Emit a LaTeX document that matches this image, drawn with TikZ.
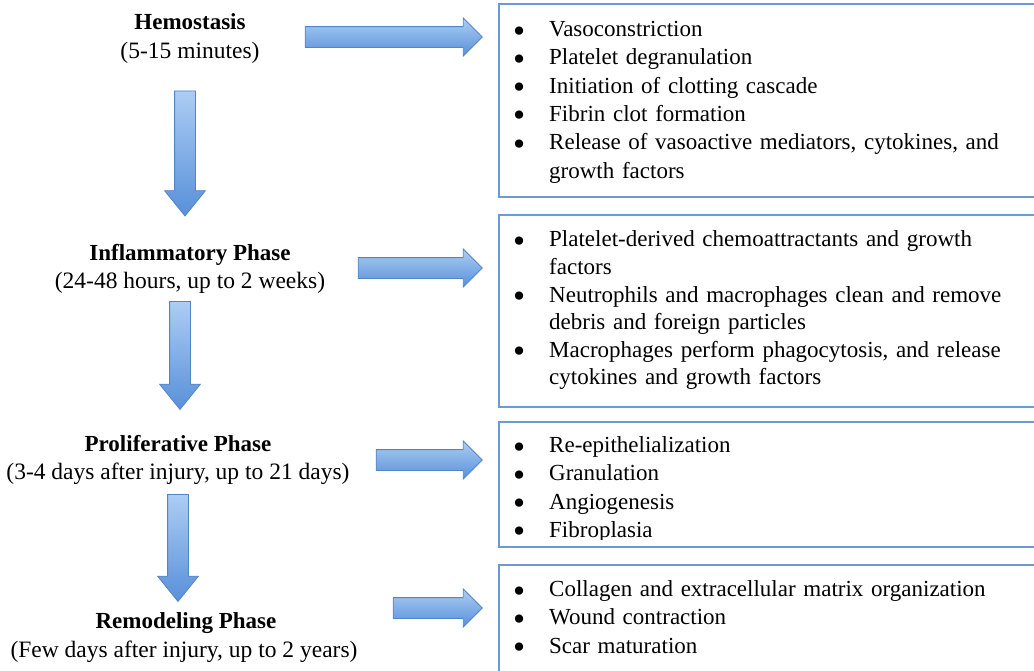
\documentclass[tikz,border=0pt]{standalone}
\usepackage{fontspec}
\setmainfont{Liberation Serif}
\usetikzlibrary{shapes.arrows}

\definecolor{arrowtop}{RGB}{172,205,244}
\definecolor{arrowbot}{RGB}{88,144,217}
\definecolor{arrowline}{RGB}{84,132,196}
\definecolor{boxblue}{RGB}{108,154,214}

\newcommand{\itm}[1]{\par\hangindent=37pt\hangafter=1\noindent
  \makebox[37pt][l]{\hspace{1pt}\smash{\raisebox{-5.5pt}{\scalebox{1.5}{\textbullet}}}}#1\par}

\begin{document}
\begin{tikzpicture}[
    x=1pt, y=1pt,
    phase/.style={
        anchor=base,
        inner sep=0pt,
        font=\fontsize{23}{28.3}\selectfont\bfseries
    },
    span/.style={
        anchor=base,
        inner sep=0pt,
        font=\fontsize{23.5}{28.3}\selectfont
    },
    rarrow/.style={
        single arrow,
        draw=arrowline,
        line width=0.8pt,
        top color=arrowtop,
        bottom color=arrowbot,
        minimum width=37pt,
        single arrow head extend=8.5pt,
        single arrow tip angle=90,
        inner sep=10pt
    },
    darrow/.style={
        single arrow,
        shape border rotate=270,
        draw=arrowline,
        line width=0.8pt,
        top color=arrowtop,
        bottom color=arrowbot,
        minimum width=40pt,
        single arrow head extend=10pt,
        single arrow tip angle=78,
        inner sep=10pt
    },
    listbox/.style={
        draw=boxblue,
        line width=1.8pt,
        anchor=north west,
        minimum width=560pt,
        inner sep=0pt
    },
    items/.style={
        anchor=north west,
        inner sep=0pt,
        text width=520pt,
        align=left,
        font=\fontsize{23}{28.3}\selectfont
    }
]
\clip (0,0) rectangle (1034,-670);

% Phases
\node[phase] (hemo) at (190,-29) {Hemostasis};
\node[span] (hemo-t) at (190,-58) {(5-15 minutes)};
\node[phase] (infl) at (190,-260) {Inflammatory Phase};
\node[span] (infl-t) at (190,-288) {(24-48 hours, up to 2 weeks)};
\node[phase] (prol) at (178,-451) {Proliferative Phase};
\node[span] (prol-t) at (178,-479) {(3-4 days after injury, up to 21 days)};
\node[phase] (remo) at (186,-628) {Remodeling Phase};
\node[span] (remo-t) at (184,-657) {(Few days after injury, up to 2 years)};

% Down arrows
\node[darrow, minimum height=125pt] (d1) at (185,-147) {};
\node[darrow, minimum height=108pt] (d2) at (180,-349) {};
\node[darrow, minimum height=107pt] (d3) at (178,-541.5) {};

% Right arrows
\node[rarrow, minimum height=177pt] (r1) at (388.5,-37) {};
\node[rarrow, minimum height=124pt] (r2) at (415,-268) {};
\node[rarrow, minimum height=106pt] (r3) at (424,-460) {};
\node[rarrow, minimum height=89pt] (r4) at (432.5,-608) {};

% Boxes
\node[listbox, minimum height=193pt] (hemo-box) at (498,-3) {};
\node[listbox, minimum height=192pt] (infl-box) at (498,-214) {};
\node[listbox, minimum height=125pt] (prol-box) at (498,-421) {};
\node[listbox, minimum height=130pt] (remo-box) at (498,-564) {};

% Lists
\node[items] (hemo-list) at ([xshift=14pt,yshift=-5pt]hemo-box.north west) {
    \itm{Vasoconstriction}
    \itm{Platelet degranulation}
    \itm{Initiation of clotting cascade}
    \itm{Fibrin clot formation}
    \itm{Release of vasoactive mediators, cytokines, and\newline growth factors}
};
\node[items, font=\fontsize{23}{27.6}\selectfont] (infl-list) at ([xshift=14pt,yshift=-5pt]infl-box.north west) {
    \itm{Platelet-derived chemoattractants and growth\newline factors}
    \itm{Neutrophils and macrophages clean and remove\newline debris and foreign particles}
    \itm{Macrophages perform phagocytosis, and release\newline cytokines and growth factors}
};
\begin{scope}
    \clip (499,-422) rectangle (1034,-539);
    \node[items] (prol-list) at ([xshift=14pt,yshift=-3pt]prol-box.north west) {
        \itm{Re-epithelialization}
        \itm{Granulation}
        \itm{Angiogenesis}
        \itm{Fibroplasia}
    };
\end{scope}
\node[items] (remo-list) at ([xshift=14pt,yshift=-4pt]remo-box.north west) {
    \itm{Collagen and extracellular matrix organization}
    \itm{Wound contraction}
    \itm{Scar maturation}
};

\end{tikzpicture}
\end{document}
